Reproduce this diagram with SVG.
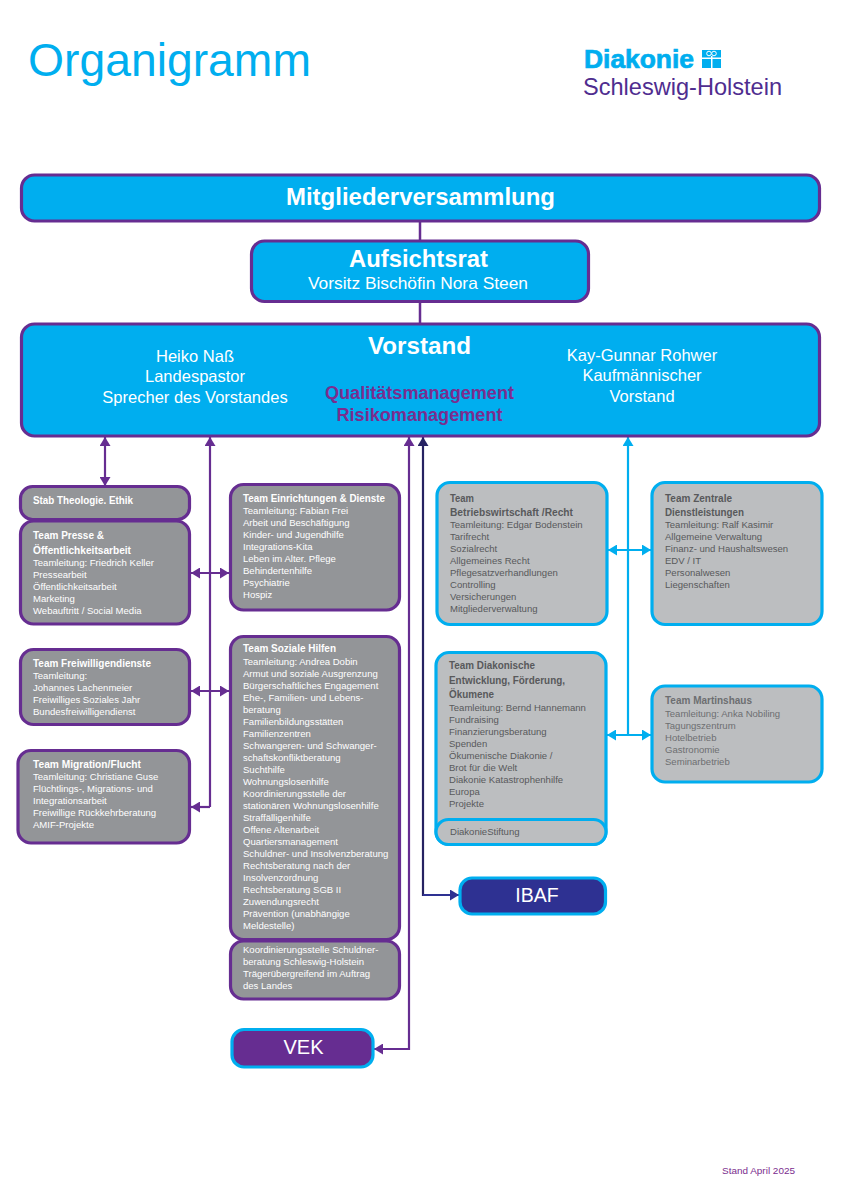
<svg xmlns="http://www.w3.org/2000/svg" width="842" height="1191" viewBox="0 0 842 1191">
<defs>
<style>
text{font-family:"Liberation Sans",Arial,sans-serif}
.box{stroke-width:3.2}
.p{stroke:#662d91}.c{stroke:#00aeef}
.blue{fill:#00aeef}.g1{fill:#939598}.g2{fill:#bcbec0}
.h{font-weight:700;font-size:11px;fill:#fff}
.b{font-size:9.55px;fill:#fff}
.hd{font-weight:700;font-size:11px;fill:#58595b}
.bd{font-size:9.55px;fill:#58595b}
.hm{font-weight:700;font-size:11px;fill:#6d6e71}
.bm{font-size:9.55px;fill:#6d6e71}
.big{font-size:16.5px;fill:#fff;text-anchor:middle}
.tb{font-weight:700;font-size:24px;fill:#fff;text-anchor:middle}
.q{font-weight:700;font-size:18px;fill:#7b2d8e;text-anchor:middle}
.con{fill:none;stroke-width:2.2}
</style>
<marker id="ap" markerUnits="userSpaceOnUse" viewBox="0 0 9 11" refX="9" refY="5.5" markerWidth="9" markerHeight="11" orient="auto-start-reverse"><path d="M0 0L9 5.500L0 11Z" fill="#662d91"/></marker>
<marker id="ac" markerUnits="userSpaceOnUse" viewBox="0 0 9 11" refX="9" refY="5.5" markerWidth="9" markerHeight="11" orient="auto-start-reverse"><path d="M0 0L9 5.500L0 11Z" fill="#00aeef"/></marker>
<marker id="an" markerUnits="userSpaceOnUse" viewBox="0 0 9 11" refX="9" refY="5.5" markerWidth="9" markerHeight="11" orient="auto-start-reverse"><path d="M0 0L9 5.500L0 11Z" fill="#2e3192"/></marker>
<marker id="ad" markerUnits="userSpaceOnUse" viewBox="0 0 9 11" refX="9" refY="5.5" markerWidth="9" markerHeight="11" orient="auto-start-reverse"><path d="M0 0L9 5.500L0 11Z" fill="#262262"/></marker>
</defs>
<rect width="842" height="1191" fill="#fff"/>
<g id="header">
<text x="28" y="76" font-size="46.5" fill="#00aeef" textLength="283" lengthAdjust="spacingAndGlyphs">Organigramm</text>
<text x="584" y="68" font-size="25" font-weight="700" fill="#00aeef" stroke="#00aeef" stroke-width="0.7" textLength="110" lengthAdjust="spacingAndGlyphs">Diakonie</text>
<rect x="702" y="50" width="19" height="18" fill="#00aeef"/>
<rect x="711" y="56" width="1.500" height="12" fill="#fff"/>
<rect x="702" y="57.500" width="19" height="1.500" fill="#fff"/>
<circle cx="709" cy="53.500" r="2.300" fill="#00aeef" stroke="#fff"/><circle cx="714" cy="53.500" r="2.300" fill="#00aeef" stroke="#fff"/>
<text x="583" y="95" font-size="24" fill="#4f2d8f" textLength="199" lengthAdjust="spacingAndGlyphs">Schleswig-Holstein</text>
</g>
<g id="connectors">
<path class="con" stroke="#662d91" style="stroke-width:2.5" d="M420 221V240M420 302V323"/>
<path class="con" stroke="#662d91" marker-start="url(#ap)" marker-end="url(#ap)" d="M105 437V486"/>
<path class="con" stroke="#662d91" marker-end="url(#ap)" d="M210 807V437"/>
<path class="con" stroke="#662d91" marker-start="url(#ap)" marker-end="url(#ap)" d="M191 573H229"/>
<path class="con" stroke="#662d91" marker-start="url(#ap)" marker-end="url(#ap)" d="M191 691H229"/>
<path class="con" stroke="#662d91" marker-end="url(#ap)" d="M210 807H191"/>
<path class="con" stroke="#662d91" marker-start="url(#ap)" marker-end="url(#ap)" d="M409 437V1049H374"/>
<path class="con" stroke="#262262" marker-start="url(#ad)" d="M423 437V895H446"/>
<path class="con" stroke="#2e3192" marker-end="url(#an)" d="M423 895H459"/>
<path class="con" stroke="#00aeef" marker-end="url(#ac)" d="M628 735V437"/>
<path class="con" stroke="#00aeef" marker-start="url(#ac)" marker-end="url(#ac)" d="M608 550H651"/>
<path class="con" stroke="#00aeef" marker-start="url(#ac)" marker-end="url(#ac)" d="M607 735H651"/>
</g>
<g id="mitgliederversammlung">
<rect class="box p blue" x="21.500" y="175" width="798" height="46" rx="13"/>
<text class="tb" x="420.500" y="205" textLength="269" lengthAdjust="spacingAndGlyphs">Mitgliederversammlung</text>
</g>
<g id="aufsichtsrat">
<rect class="box p blue" x="251.500" y="241" width="337" height="60.500" rx="13"/>
<text class="tb" x="418.500" y="267" textLength="139" lengthAdjust="spacingAndGlyphs">Aufsichtsrat</text>
<text class="big" x="418" y="289" textLength="220" lengthAdjust="spacingAndGlyphs">Vorsitz Bischöfin Nora Steen</text>
</g>
<g id="vorstand">
<rect class="box p blue" x="21.500" y="324" width="798" height="112" rx="13"/>
<text class="tb" x="419.500" y="354" textLength="103" lengthAdjust="spacingAndGlyphs">Vorstand</text>
<text class="big" x="195" y="362">Heiko Naß</text>
<text class="big" x="195" y="382">Landespastor</text>
<text class="big" x="195" y="403">Sprecher des Vorstandes</text>
<text class="big" x="642" y="361">Kay-Gunnar Rohwer</text>
<text class="big" x="642" y="381">Kaufmännischer</text>
<text class="big" x="642" y="402">Vorstand</text>
<text class="q" x="419.500" y="399" textLength="189" lengthAdjust="spacingAndGlyphs">Qualitätsmanagement</text>
<text class="q" x="419.500" y="421" textLength="166" lengthAdjust="spacingAndGlyphs">Risikomanagement</text>
</g>
<g id="stab-theologie">
<rect class="box p g1" x="20.500" y="486.500" width="169" height="33" rx="12"/>
<text class="h" x="33" y="504" textLength="100" lengthAdjust="spacingAndGlyphs">Stab Theologie. Ethik</text>
</g>
<g id="team-presse">
<rect class="box p g1" x="20.500" y="521" width="169" height="103" rx="13"/>
<text class="h" x="33" y="539" textLength="71" lengthAdjust="spacingAndGlyphs">Team Presse &amp;</text>
<text class="h" x="33" y="554" textLength="98" lengthAdjust="spacingAndGlyphs">Öffentlichkeitsarbeit</text>
<text class="b" x="33" y="566">Teamleitung: Friedrich Keller</text>
<text class="b" x="33" y="578">Pressearbeit</text>
<text class="b" x="33" y="590">Öffentlichkeitsarbeit</text>
<text class="b" x="33" y="602">Marketing</text>
<text class="b" x="33" y="614">Webauftritt / Social Media</text>
</g>
<g id="team-einrichtungen">
<rect class="box p g1" x="230.500" y="484.500" width="169" height="125.500" rx="13"/>
<text class="h" x="243" y="502" textLength="142" lengthAdjust="spacingAndGlyphs">Team Einrichtungen &amp; Dienste</text>
<text class="b" x="243" y="514">Teamleitung: Fabian Frei</text>
<text class="b" x="243" y="526">Arbeit und Beschäftigung</text>
<text class="b" x="243" y="538">Kinder- und Jugendhilfe</text>
<text class="b" x="243" y="550">Integrations-Kita</text>
<text class="b" x="243" y="562">Leben im Alter. Pflege</text>
<text class="b" x="243" y="574">Behindertenhilfe</text>
<text class="b" x="243" y="586">Psychiatrie</text>
<text class="b" x="243" y="598">Hospiz</text>
</g>
<g id="team-freiwilligendienste">
<rect class="box p g1" x="20.500" y="649.500" width="169" height="75" rx="13"/>
<text class="h" x="33" y="667" textLength="118" lengthAdjust="spacingAndGlyphs">Team Freiwilligendienste</text>
<text class="b" x="33" y="679">Teamleitung:</text>
<text class="b" x="33" y="691">Johannes Lachenmeier</text>
<text class="b" x="33" y="703">Freiwilliges Soziales Jahr</text>
<text class="b" x="33" y="715">Bundesfreiwilligendienst</text>
</g>
<g id="team-migration">
<rect class="box p g1" x="18" y="750.500" width="171.500" height="92.500" rx="13"/>
<text class="h" x="33" y="768" textLength="108" lengthAdjust="spacingAndGlyphs">Team Migration/Flucht</text>
<text class="b" x="33" y="780">Teamleitung: Christiane Guse</text>
<text class="b" x="33" y="792">Flüchtlings-, Migrations- und</text>
<text class="b" x="33" y="804">Integrationsarbeit</text>
<text class="b" x="33" y="816">Freiwillige Rückkehrberatung</text>
<text class="b" x="33" y="828">AMIF-Projekte</text>
</g>
<g id="team-soziale-hilfen">
<rect class="box p g1" x="230.500" y="636.500" width="169" height="303" rx="13"/>
<text class="h" x="243" y="652" textLength="93" lengthAdjust="spacingAndGlyphs">Team Soziale Hilfen</text>
<text class="b" x="243" y="665">Teamleitung: Andrea Dobin</text>
<text class="b" x="243" y="677">Armut und soziale Ausgrenzung</text>
<text class="b" x="243" y="689">Bürgerschaftliches Engagement</text>
<text class="b" x="243" y="701">Ehe-, Familien- und Lebens-</text>
<text class="b" x="243" y="713">beratung</text>
<text class="b" x="243" y="725">Familienbildungsstätten</text>
<text class="b" x="243" y="737">Familienzentren</text>
<text class="b" x="243" y="749">Schwangeren- und Schwanger-</text>
<text class="b" x="243" y="761">schaftskonfliktberatung</text>
<text class="b" x="243" y="773">Suchthilfe</text>
<text class="b" x="243" y="785">Wohnungslosenhilfe</text>
<text class="b" x="243" y="797">Koordinierungsstelle der</text>
<text class="b" x="243" y="809">stationären Wohnungslosenhilfe</text>
<text class="b" x="243" y="821">Straffälligenhilfe</text>
<text class="b" x="243" y="833">Offene Altenarbeit</text>
<text class="b" x="243" y="845">Quartiersmanagement</text>
<text class="b" x="243" y="857">Schuldner- und Insolvenzberatung</text>
<text class="b" x="243" y="869">Rechtsberatung nach der</text>
<text class="b" x="243" y="881">Insolvenzordnung</text>
<text class="b" x="243" y="893">Rechtsberatung SGB II</text>
<text class="b" x="243" y="905">Zuwendungsrecht</text>
<text class="b" x="243" y="917">Prävention (unabhängige</text>
<text class="b" x="243" y="929">Meldestelle)</text>
</g>
<g id="koordinierungsstelle">
<rect class="box p g1" x="230.500" y="941" width="169" height="58" rx="13"/>
<text class="b" x="243" y="953">Koordinierungsstelle Schuldner-</text>
<text class="b" x="243" y="965">beratung Schleswig-Holstein</text>
<text class="b" x="243" y="977">Trägerübergreifend im Auftrag</text>
<text class="b" x="243" y="989">des Landes</text>
</g>
<g id="vek">
<rect class="box c" fill="#662d91" x="232" y="1029.500" width="141" height="37.500" rx="12"/>
<text x="303.500" y="1054" font-size="20" fill="#fff" text-anchor="middle">VEK</text>
</g>
<g id="ibaf">
<rect class="box c" fill="#2e3192" x="460" y="878" width="145.500" height="36" rx="12"/>
<text x="537" y="902" font-size="19.500" fill="#fff" text-anchor="middle">IBAF</text>
</g>
<g id="team-betriebswirtschaft">
<rect class="box c g2" x="437" y="482.500" width="170" height="142" rx="13"/>
<text class="hd" x="450" y="502" textLength="24" lengthAdjust="spacingAndGlyphs">Team</text>
<text class="hd" x="450" y="516" textLength="123" lengthAdjust="spacingAndGlyphs">Betriebswirtschaft /Recht</text>
<text class="bd" x="450" y="528">Teamleitung: Edgar Bodenstein</text>
<text class="bd" x="450" y="540">Tarifrecht</text>
<text class="bd" x="450" y="552">Sozialrecht</text>
<text class="bd" x="450" y="564">Allgemeines Recht</text>
<text class="bd" x="450" y="576">Pflegesatzverhandlungen</text>
<text class="bd" x="450" y="588">Controlling</text>
<text class="bd" x="450" y="600">Versicherungen</text>
<text class="bd" x="450" y="612">Mitgliederverwaltung</text>
</g>
<g id="team-zentrale">
<rect class="box c g2" x="652" y="482.500" width="170" height="142" rx="13"/>
<text class="hd" x="665" y="502" textLength="67" lengthAdjust="spacingAndGlyphs">Team Zentrale</text>
<text class="hd" x="665" y="516" textLength="79" lengthAdjust="spacingAndGlyphs">Dienstleistungen</text>
<text class="bd" x="665" y="528">Teamleitung: Ralf Kasimir</text>
<text class="bd" x="665" y="540">Allgemeine Verwaltung</text>
<text class="bd" x="665" y="552">Finanz- und Haushaltswesen</text>
<text class="bd" x="665" y="564">EDV / IT</text>
<text class="bd" x="665" y="576">Personalwesen</text>
<text class="bd" x="665" y="588">Liegenschaften</text>
</g>
<g id="team-diakonische">
<rect class="box c g2" x="436" y="652.500" width="170" height="192" rx="13"/>
<text class="hd" x="449" y="669" textLength="86" lengthAdjust="spacingAndGlyphs">Team Diakonische</text>
<text class="hd" x="449" y="684" textLength="116" lengthAdjust="spacingAndGlyphs">Entwicklung, Förderung,</text>
<text class="hd" x="449" y="698" textLength="45" lengthAdjust="spacingAndGlyphs">Ökumene</text>
<text class="bd" x="449" y="711">Teamleitung: Bernd Hannemann</text>
<text class="bd" x="449" y="723">Fundraising</text>
<text class="bd" x="449" y="735">Finanzierungsberatung</text>
<text class="bd" x="449" y="747">Spenden</text>
<text class="bd" x="449" y="759">Ökumenische Diakonie /</text>
<text class="bd" x="449" y="771">Brot für die Welt</text>
<text class="bd" x="449" y="783">Diakonie Katastrophenhilfe</text>
<text class="bd" x="449" y="795">Europa</text>
<text class="bd" x="449" y="807">Projekte</text>
</g>
<g id="diakoniestiftung">
<rect class="box c g2" x="436" y="819.500" width="170" height="25" rx="12.500"/>
<text class="bd" x="450" y="835">DiakonieStiftung</text>
</g>
<g id="team-martinshaus">
<rect class="box c g2" x="652" y="686" width="170" height="96" rx="13"/>
<text class="hm" x="665" y="704" textLength="87" lengthAdjust="spacingAndGlyphs">Team Martinshaus</text>
<text class="bm" x="665" y="717">Teamleitung: Anka Nobiling</text>
<text class="bm" x="665" y="729">Tagungszentrum</text>
<text class="bm" x="665" y="741">Hotelbetrieb</text>
<text class="bm" x="665" y="753">Gastronomie</text>
<text class="bm" x="665" y="765">Seminarbetrieb</text>
</g>
<text id="stand" x="722" y="1174" font-size="9.500" fill="#7b2d8e" textLength="73" lengthAdjust="spacingAndGlyphs">Stand April 2025</text>
</svg>
